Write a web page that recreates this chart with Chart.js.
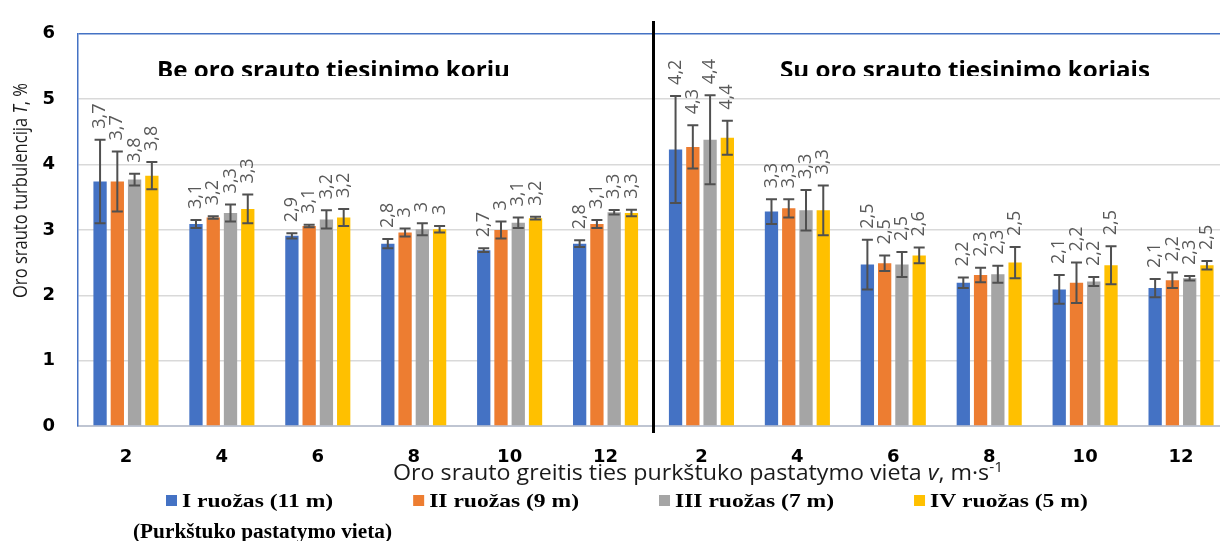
<!DOCTYPE html>
<html>
<head>
<meta charset="utf-8">
<script src="https://cdn.jsdelivr.net/npm/chart.js@4.4.1/dist/chart.umd.min.js"></script>
<style>
    html, body { margin: 0; padding: 0; background: #fff; overflow: hidden; }
    #wrap { width: 1230px; height: 541px; }
    canvas { display: block; }
</style>
</head>
<body>
<div id="wrap"><canvas id="graficoTurbulencija" width="1230" height="541"></canvas></div>
<script>
// greitis v (m/s), pirma puse be koriu, antra su koriais
const greiciai = ['2', '4', '6', '8', '10', '12', '2', '4', '6', '8', '10', '12']
const ruozai = ['I ruožas (11 m)', 'II ruožas (9 m)', 'III ruožas (7 m)', 'IV ruožas (5 m)']
const spalvos = ['#4472C4', '#ED7D31', '#A5A5A5', '#FFC000']

const turbulencijaI = [3.74, 3.09, 2.91, 2.79, 2.69, 2.79, 4.23, 3.28, 2.47, 2.19, 2.09, 2.11]
const turbulencijaII = [3.74, 3.19, 3.06, 2.96, 3.00, 3.09, 4.27, 3.33, 2.49, 2.31, 2.19, 2.23]
const turbulencijaIII = [3.77, 3.26, 3.16, 3.01, 3.11, 3.27, 4.38, 3.30, 2.47, 2.32, 2.21, 2.26]
const turbulencijaIV = [3.83, 3.32, 3.19, 3.01, 3.18, 3.26, 4.41, 3.30, 2.61, 2.50, 2.46, 2.46]

const paklaidaI = [0.64, 0.06, 0.04, 0.07, 0.03, 0.05, 0.82, 0.19, 0.38, 0.08, 0.22, 0.14]
const paklaidaII = [0.46, 0.02, 0.02, 0.06, 0.13, 0.06, 0.33, 0.14, 0.12, 0.11, 0.31, 0.12]
const paklaidaIII = [0.09, 0.13, 0.14, 0.09, 0.08, 0.035, 0.68, 0.31, 0.19, 0.13, 0.07, 0.035]
const paklaidaIV = [0.21, 0.22, 0.13, 0.05, 0.02, 0.05, 0.26, 0.38, 0.12, 0.24, 0.29, 0.065]

const pavadinimai = ['Be oro srauto tiesinimo koriu', 'Su oro srauto tiesinimo koriais']
const yMin = 0, yMax = 6, yZingsnis = 1

const turbulencijos = [turbulencijaI, turbulencijaII, turbulencijaIII, turbulencijaIV]
const paklaidos = [paklaidaI, paklaidaII, paklaidaIII, paklaidaIV]

function formatuoti(v) {
    return String(+v.toFixed(1)).replace('.', ',')
}

// tekstas is kelis daliu (kursyvas, laipsnis), ištemptas iki nurodyto pločio
function pieštiTeksta(ctx, dalys, x, y, opts) {
    let w = 0
    dalys.forEach(d => { ctx.font = d.f; d.w = ctx.measureText(d.t).width; w += d.w })
    const sx = opts.plotis ? opts.plotis / w : (opts.sx || 1)
    ctx.save()
    ctx.translate(x, y)
    if (opts.kampas) ctx.rotate(opts.kampas)
    ctx.scale(sx, opts.sy || 1)
    ctx.textAlign = 'left'
    ctx.textBaseline = 'alphabetic'
    ctx.fillStyle = opts.spalva || '#000'
    let cx = 0
    dalys.forEach(d => { ctx.font = d.f; ctx.fillText(d.t, cx, d.dy || 0); cx += d.w })
    ctx.restore()
    return w * sx
}

const paklaiduPlugin = {
    id: 'paklaidos',
    afterDatasetsDraw(chart) {
        const ctx = chart.ctx
        const ys = chart.scales.y
        chart.data.datasets.forEach((ds, i) => {
            const meta = chart.getDatasetMeta(i)
            meta.data.forEach((bar, j) => {
                const v = ds.data[j], e = paklaidos[i][j]
                const yT = ys.getPixelForValue(v + e)
                const yB = ys.getPixelForValue(v - e)
                ctx.save()
                ctx.strokeStyle = '#505050'
                ctx.lineWidth = 2
                ctx.beginPath()
                ctx.moveTo(bar.x, yT); ctx.lineTo(bar.x, yB)
                ctx.moveTo(bar.x - 5.5, yT); ctx.lineTo(bar.x + 5.5, yT)
                ctx.moveTo(bar.x - 5.5, yB); ctx.lineTo(bar.x + 5.5, yB)
                ctx.stroke()
                // reikšmė, pasukta 90 laipsnių
                ctx.translate(bar.x, yT - 11)
                ctx.rotate(-Math.PI / 2)
                ctx.font = '18px "Open Sans"'
                ctx.fillStyle = '#595959'
                ctx.textAlign = 'left'
                ctx.textBaseline = 'middle'
                ctx.fillText(formatuoti(v), 0, 0)
                ctx.restore()
            })
        })
    }
}

const papildomiPlugin = {
    id: 'papildomi',
    afterDraw(chart) {
        const ctx = chart.ctx
        const xs = chart.scales.x

        // skiriamoji linija
        const xSkyr = (xs.getPixelForValue(5) + xs.getPixelForValue(6)) / 2
        ctx.save()
        ctx.strokeStyle = '#000'
        ctx.lineWidth = 3
        ctx.beginPath()
        ctx.moveTo(xSkyr, 21)
        ctx.lineTo(xSkyr, 433)
        ctx.stroke()
        ctx.restore()

        // antraštės (apkarpytos apačioje kaip originale)
        ctx.save()
        ctx.beginPath()
        ctx.rect(0, 0, chart.width, 76)
        ctx.clip()
        pieštiTeksta(ctx, [{ t: pavadinimai[0], f: 'bold 22px "Open Sans"' }], 157, 78, { plotis: 353, sy: 1.05 })
        pieštiTeksta(ctx, [{ t: pavadinimai[1], f: 'bold 22px "Open Sans"' }], 780, 78, { plotis: 370, sy: 1.05 })
        ctx.restore()

        // Y ašies pavadinimas
        const fy = '18px "Open Sans"', fyi = 'italic 18px "Open Sans"'
        pieštiTeksta(ctx, [
            { t: 'Oro srauto turbulencija ', f: fy },
            { t: 'T', f: fyi },
            { t: ', %', f: fy }
        ], 27, 298, { plotis: 215, kampas: -Math.PI / 2, sy: 1.08, spalva: '#1a1a1a' })

        // X ašies pavadinimas
        const fx = '21px "Open Sans"', fxi = 'italic 21px "Open Sans"'
        pieštiTeksta(ctx, [
            { t: 'Oro srauto greitis ties purkštuko pastatymo vieta ', f: fx },
            { t: 'v', f: fxi },
            { t: ', m·s', f: fx },
            { t: '-1', f: '14px "Open Sans"', dy: -8 }
        ], 393, 480, { plotis: 610, spalva: '#1a1a1a' })

        // legenda
        let x = 166
        chart.data.datasets.forEach(ds => {
            ctx.fillStyle = ds.backgroundColor
            ctx.fillRect(x, 495, 11, 11)
            const w = pieštiTeksta(ctx, [{ t: ds.label, f: 'bold 19px "Liberation Serif"' }], x + 16, 507, { sx: 1.24 })
            x += 16 + w + 80
        })
        pieštiTeksta(ctx, [{ t: '(Purkštuko pastatymo vieta)', f: 'bold 20px "Liberation Serif"' }], 133, 538, { plotis: 259 })
    }
}

const datasets = ruozai.map((r, i) => ({
    label: r,
    data: turbulencijos[i],
    backgroundColor: spalvos[i],
    borderWidth: 0,
    categoryPercentage: 0.72,
    barPercentage: 0.77
}))

const graficoTurbulencija = new Chart(document.getElementById('graficoTurbulencija'), {
    type: 'bar',
    data: {
        labels: greiciai,
        datasets: datasets
    },
    options: {
        responsive: false,
        animation: false,
        devicePixelRatio: 1,
        layout: {
            padding: { left: 0, right: 1, top: 23, bottom: 0 }
        },
        plugins: {
            legend: { display: false },
            tooltip: { enabled: false },
            title: { display: false }
        },
        scales: {
            x: {
                afterFit: function (scale) { scale.height = 115 },
                grid: { display: false, drawTicks: false },
                border: { color: '#BFC5D2', width: 2 },
                ticks: {
                    padding: 21,
                    color: '#000',
                    font: { family: 'DejaVu Sans', weight: 'bold', size: 18 },
                    maxRotation: 0,
                    autoSkip: false
                }
            },
            y: {
                min: yMin,
                max: yMax,
                afterFit: function (scale) { scale.width = 78 },
                grid: {
                    drawTicks: false,
                    color: function (c) { return c.tick && c.tick.value === yMax ? '#4472C4' : '#D9D9D9' },
                    lineWidth: 1.5
                },
                border: { color: '#4472C4', width: 1.5 },
                ticks: {
                    stepSize: yZingsnis,
                    padding: 23,
                    color: '#000',
                    font: { family: 'DejaVu Sans', weight: 'bold', size: 18 }
                }
            }
        }
    },
    plugins: [paklaiduPlugin, papildomiPlugin]
})
</script>
</body>
</html>
